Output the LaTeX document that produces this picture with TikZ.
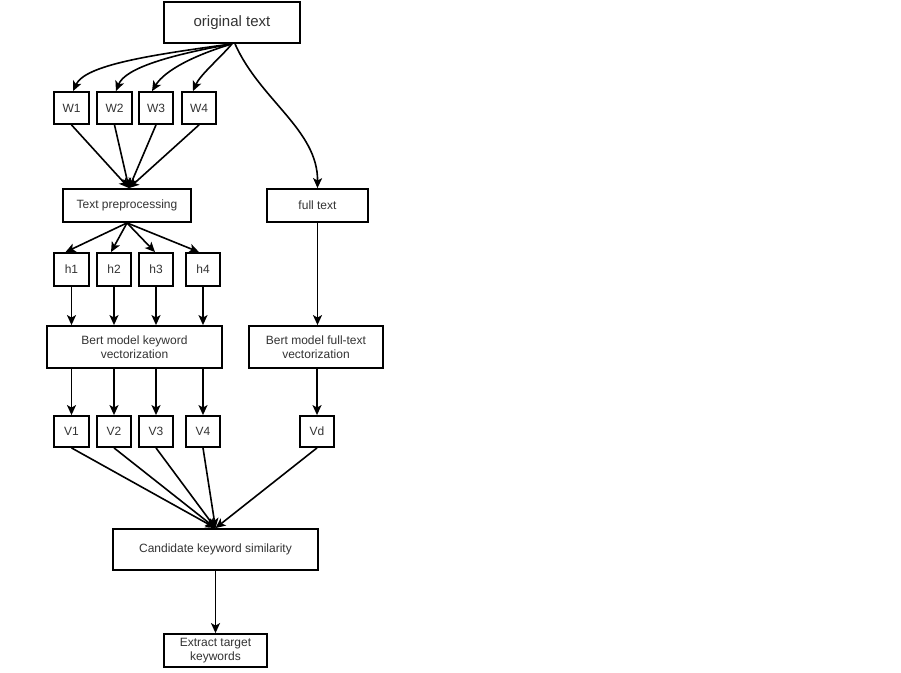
\documentclass[tikz,border=0pt]{standalone}
\usepackage{fontspec}
\setmainfont{Liberation Sans}
\usetikzlibrary{arrows.meta}
\begin{document}
\begin{tikzpicture}[x=1pt,y=-1pt,
  box/.style={draw=black,line width=1.8pt,fill=white,inner sep=0pt,align=center,
    text=black!80,font=\fontsize{12}{13.5}\selectfont},
  arr/.style={line width=1.6pt,-{Stealth[length=10pt,width=9pt,inset=2.5pt]}}]
\useasboundingbox[fill=white] (0,0) rectangle (901,672);
% nodes
\node[box,minimum width=136pt,minimum height=41pt,font=\fontsize{15}{17}\selectfont] (orig) at (232,22.5) {original text};
\node[box,minimum width=35pt,minimum height=32pt] (W1) at (71.5,108) {W1};
\node[box,minimum width=35pt,minimum height=32pt] (W2) at (114.5,108) {W2};
\node[box,minimum width=34pt,minimum height=32pt] (W3) at (156,108) {W3};
\node[box,minimum width=34pt,minimum height=32pt] (W4) at (199,108) {W4};
\node[box,minimum width=128pt,minimum height=33pt] (tp) at (127,205.5) {Text preprocessing};
\node[box,minimum width=101pt,minimum height=33pt] (ft) at (317.5,205.5) {full text};
\node[box,minimum width=35pt,minimum height=33pt] (h1) at (71.5,269.5) {h1};
\node[box,minimum width=34pt,minimum height=33pt] (h2) at (114,269.5) {h2};
\node[box,minimum width=34pt,minimum height=33pt] (h3) at (156,269.5) {h3};
\node[box,minimum width=34pt,minimum height=33pt] (h4) at (203,269.5) {h4};
\node[box,minimum width=175pt,minimum height=42pt] (bk) at (134.5,347) {Bert model keyword\\vectorization};
\node[box,minimum width=134pt,minimum height=42pt] (bf) at (316,347) {Bert model full-text\\vectorization};
\node[box,minimum width=35pt,minimum height=31pt] (V1) at (71.5,431.5) {V1};
\node[box,minimum width=34pt,minimum height=31pt] (V2) at (114,431.5) {V2};
\node[box,minimum width=34pt,minimum height=31pt] (V3) at (156,431.5) {V3};
\node[box,minimum width=34pt,minimum height=31pt] (V4) at (203,431.5) {V4};
\node[box,minimum width=34pt,minimum height=31pt] (Vd) at (317,431.5) {Vd};
\node[box,minimum width=205pt,minimum height=41pt] (cand) at (215.5,549.5) {Candidate keyword similarity};
\node[box,minimum width=103pt,minimum height=33pt] (ext) at (215.5,650.5) {Extract target\\keywords};
% original text -> W
\draw[arr] (orig.south) .. controls (150,55) and (85,65) .. ([xshift=1.5pt]W1.north);
\draw[arr] (orig.south) .. controls (170,55) and (125,68) .. ([xshift=1.5pt]W2.north);
\draw[arr] (orig.south) .. controls (195,55) and (165,70) .. ([xshift=-4pt]W3.north);
\draw[arr] (orig.south) .. controls (220,58) and (200,75) .. ([xshift=-6pt]W4.north);
\draw[arr] ([xshift=3pt]orig.south) .. controls (260,100) and (318,130) .. (ft.north);
% W -> text preprocessing
\foreach \w in {W1,W2,W3,W4}
  \draw[arr] (\w.south) -- ([xshift=2pt]tp.north);
% text preprocessing -> h
\draw[arr] (tp.south) -- ([xshift=-6pt]h1.north);
\draw[arr] (tp.south) -- ([xshift=-3pt]h2.north);
\draw[arr] (tp.south) -- ([xshift=-1pt]h3.north);
\draw[arr] (tp.south) -- ([xshift=-4pt]h4.north);
% h -> bert keyword
\foreach \h in {h1,h2,h3,h4}
  \draw[arr] (\h.south) -- (\h.south |- bk.north);
\draw[arr] (ft.south) -- (ft.south |- bf.north);
% bert -> V
\foreach \v in {V1,V2,V3,V4}
  \draw[arr] (\v.north |- bk.south) -- (\v.north);
\draw[arr] (Vd.north |- bf.south) -- (Vd.north);
% V -> candidate
\foreach \v in {V1,V2,V3,V4,Vd}
  \draw[arr] (\v.south) -- (cand.north);
\draw[arr] (cand.south) -- (ext.north);
\end{tikzpicture}
\end{document}
